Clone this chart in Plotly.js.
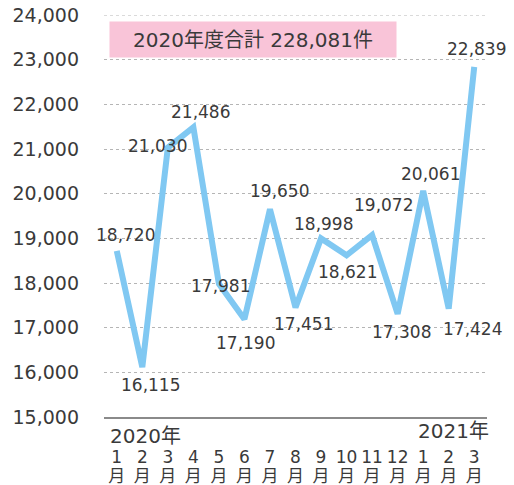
<!DOCTYPE html>
<html><head><meta charset="utf-8">
<script src="https://cdn.plot.ly/plotly-3.0.1.min.js"></script>
<style>html,body{margin:0;padding:0;background:#fff}</style>
</head><body>
<div id="chart" style="width:514px;height:485px"></div>
<script>
const monthNums = ['1','2','3','4','5','6','7','8','9','10','11','12','1','2','3'];
const values = [18720,16115,21030,21486,17981,17190,19650,17451,18998,18621,19072,17308,20061,17424,22839];
const yearLabels = ['2020年','2021年'];
const totalLabel = '2020年度合計 228,081件';
const yTicks = [15000,16000,17000,18000,19000,20000,21000,22000,23000,24000];

// label offsets (style only): [xshift, yshift]
const labelShift = [[9,16],[8,-18],[-10,2],[7,15],[2,-2],[1,-24],[10,18],[8,-16],[2,14],[1,-17],[11,30],[4,-18],[7,17],[24,-20],[2,18]];

const FONT = 'DejaVu Sans, Noto Sans CJK JP, sans-serif';
const TXT = '#3a3a3a';
const idx = values.map((v,i)=>i);

const annotations = values.map((v,i)=>({
  x:i, y:v, xref:'x', yref:'y', showarrow:false,
  text:v.toLocaleString('en-US'),
  xshift:labelShift[i][0], yshift:labelShift[i][1],
  font:{family:FONT,size:17,color:TXT}
}));
annotations.push({xref:'paper',yref:'paper',x:0.014,y:0.986,xanchor:'left',yanchor:'top',
  text:totalLabel,showarrow:false,bgcolor:'#f9c4d8',width:284,height:33,
  font:{family:FONT,size:20,color:TXT}});
annotations.push({xref:'paper',yref:'paper',x:0.01,y:-0.012,xanchor:'left',yanchor:'top',
  text:yearLabels[0],showarrow:false,font:{family:FONT,size:20,color:TXT}});
annotations.push({xref:'paper',yref:'paper',x:1.01,y:0.0,xanchor:'right',yanchor:'top',
  text:yearLabels[1],showarrow:false,font:{family:FONT,size:20,color:TXT}});

const traces = [
  {x:idx,y:values,type:'scatter',mode:'lines',line:{color:'#80c8f2',width:6},hoverinfo:'skip',showlegend:false},
  {x:idx,y:values,xaxis:'x2',type:'scatter',mode:'lines',line:{color:'rgba(0,0,0,0)',width:0},hoverinfo:'skip',showlegend:false}
];

const layout = {
  width:514,height:485,
  margin:{l:104,r:27,t:15,b:68},
  paper_bgcolor:'#fff',plot_bgcolor:'#fff',
  showlegend:false,
  xaxis:{range:[-0.5,14.5],tickvals:idx,ticktext:monthNums,showgrid:false,zeroline:false,
    showline:true,linecolor:'#8a8a8a',linewidth:1.5,ticks:'',ticklabelstandoff:24,
    tickfont:{family:FONT,size:17,color:TXT},fixedrange:true},
  xaxis2:{range:[-0.5,14.5],overlaying:'x',anchor:'y',side:'bottom',tickvals:idx,ticktext:idx.map(()=> '月'),
    showgrid:false,zeroline:false,showline:false,ticks:'',ticklabelstandoff:47,
    tickfont:{family:FONT,size:17,color:TXT}},
  yaxis:{range:[15000,24000],tickvals:yTicks,ticktext:yTicks.map(v=>v.toLocaleString('en-US')),
    showgrid:true,gridcolor:'#b5b5b5',griddash:'dot',gridwidth:1,zeroline:false,showline:false,ticks:'',
    ticklabelstandoff:24,tickfont:{family:FONT,size:19,color:TXT}},
  shapes:[{type:'line',xref:'paper',yref:'y',x0:0,x1:1,y0:yTicks[yTicks.length-1],y1:yTicks[yTicks.length-1],
    line:{color:'#b5b5b5',width:1,dash:'dot'},layer:'below'}],
  annotations:annotations
};
Plotly.newPlot('chart',traces,layout,{displayModeBar:false,staticPlot:true});
</script>
</body></html>
